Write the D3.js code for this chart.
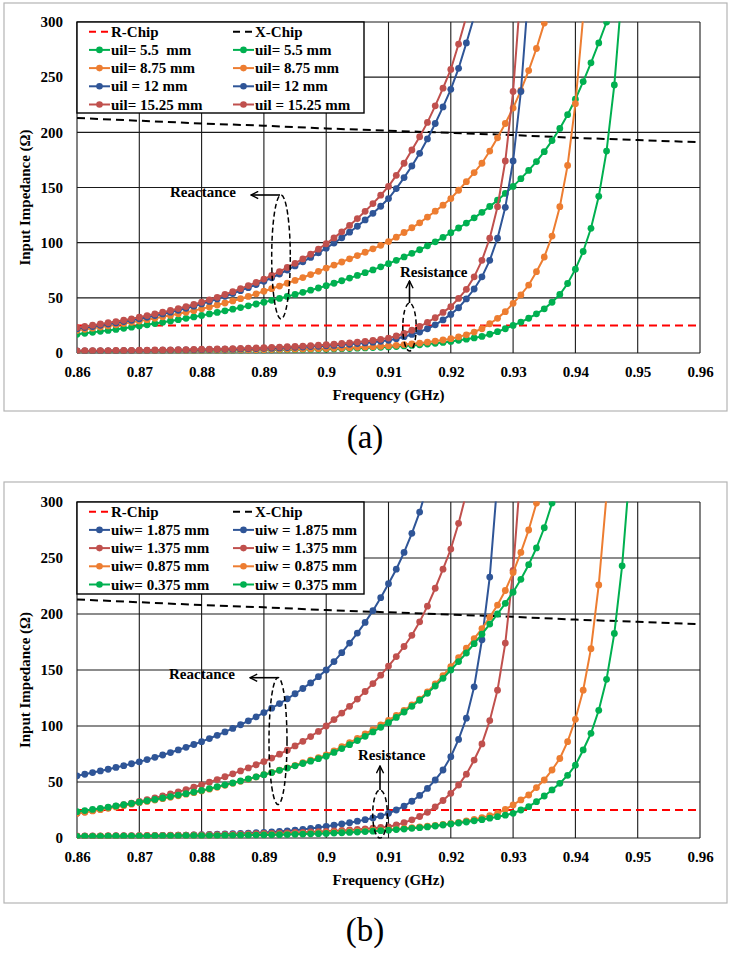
<!DOCTYPE html>
<html><head><meta charset="utf-8">
<script src="https://cdn.jsdelivr.net/npm/d3@7"></script>
<style>body{margin:0;background:#fff}svg{display:block}</style>
</head><body>
<script>
// ---------- DATA ----------
const fStart = 0.86, fStep = 0.00125;           // sweep grid of the simulated curves
const xTicks = [0.86,0.87,0.88,0.89,0.90,0.91,0.92,0.93,0.94,0.95,0.96];
const xTickLabels = ["0.86","0.87","0.88","0.89","0.9","0.91","0.92","0.93","0.94","0.95","0.96"];
const yTicks = [0,50,100,150,200,250,300];
const chipFreq = [0.86,0.87,0.88,0.89,0.90,0.91,0.92,0.93,0.94,0.95,0.96];
const rChip = [25,25,25,25,25,25,25,25,25,25,25];
const xChip = [213,210.5,208,206,203.5,201.5,199.5,197.5,195,193,191];

// panel (a) : uil
const xA55 = [17.0,17.8,18.7,19.6,20.5,21.4,22.4,23.4,24.5,25.6,26.7,27.8,29.0,30.2,31.4,32.7,34.0,35.4,36.8,38.2,39.7,41.2,42.8,44.4,46.0,47.7,49.5,51.3,53.1,55.0,56.9,58.9,61.0,63.2,65.5,67.9,70.3,72.8,75.3,78.1,81.0,84.0,87.1,90.3,93.6,97.1,100.8,104.8,109.0,113.3,117.8,122.5,127.5,132.8,138.5,144.6,151.0,158,165.5,173.5,182.5,192.5,203.5,216,230,246,263,281,300,325];
const xA875 = [20.5,21.5,22.5,23.5,24.5,25.6,26.7,27.8,29.0,30.2,31.5,32.8,34.1,35.5,36.9,38.4,40.0,41.7,43.5,45.3,47.2,49.2,51.3,53.6,56.0,58.3,60.7,63.2,65.8,68.4,71.1,74.0,77.0,79.7,82.5,85.4,88.3,91.3,94.4,97.6,101.0,105.0,109.2,113.5,118.0,123.2,128.5,134.0,140.0,147.5,155.3,163.5,172.0,183,195,208,222,238,256,276,299,325];
const xA12 = [22.0,23.0,24.0,25.1,26.2,27.3,28.5,29.7,31.0,32.4,33.9,35.4,37.0,38.7,40.5,42.4,44.5,46.7,49.0,51.4,53.9,56.5,59.2,62.0,65.0,68.2,71.6,75.2,78.9,82.7,86.6,90.7,95.0,99.6,104.4,109.5,114.9,120.6,126.6,133.0,140.0,149,159,169.5,181,194,208,223,239,258,281,305];
const xA1525 = [23.0,24.1,25.2,26.3,27.4,28.5,29.7,31.0,32.5,33.9,35.4,37.0,38.6,40.3,42.1,44.0,46.0,48.2,50.5,53.0,55.6,58.3,61.1,64.0,67.0,70.3,73.8,77.5,81.3,85.3,89.5,94.1,99.0,104.3,109.8,115.6,121.8,128.4,135.4,143.0,151.0,161,172,184,196,209,224,240,257,280,305];
const rA55 = [1.5,1.5,1.5,1.6,1.6,1.6,1.6,1.7,1.7,1.7,1.8,1.8,1.8,1.9,1.9,2.0,2.0,2.1,2.1,2.2,2.3,2.3,2.4,2.5,2.6,2.7,2.8,2.9,3.0,3.1,3.2,3.4,3.5,3.7,3.9,4.1,4.4,4.6,4.9,5.2,5.5,5.9,6.4,6.9,7.5,8.1,8.8,9.6,10.5,11.5,12.5,13.7,15.0,17.0,19.3,22.0,25.0,28,31.5,35.5,40,46,53,63,76,92,113,142,183,243,330];
const rA875 = [1.6,1.6,1.7,1.7,1.7,1.8,1.8,1.9,1.9,2.0,2.0,2.1,2.1,2.2,2.2,2.3,2.3,2.4,2.5,2.6,2.7,2.8,2.8,2.9,3.0,3.1,3.2,3.3,3.5,3.6,3.7,3.9,4.0,4.2,4.5,4.8,5.1,5.4,5.7,6.1,6.5,7.0,7.6,8.3,9.0,9.8,10.8,11.8,13.0,14.6,16.5,19.0,22.0,26.5,31.4,37.5,45,52.6,61.6,73.7,87,106,132.6,170,226,305];
const rA12 = [1.8,1.8,1.9,1.9,2.0,2.0,2.1,2.1,2.2,2.3,2.4,2.5,2.6,2.7,2.8,2.9,3.0,3.1,3.3,3.4,3.5,3.7,3.8,4.0,4.2,4.4,4.6,4.9,5.1,5.4,5.8,6.1,6.5,6.9,7.4,7.9,8.5,9.1,9.8,10.6,11.5,13.0,14.8,16.8,19.0,22.0,25.5,30.0,35.0,41,49,58,69,84,104,132,174,237,330];
const rA1525 = [2.0,2.1,2.1,2.2,2.2,2.3,2.3,2.4,2.5,2.6,2.7,2.8,2.9,3.0,3.1,3.3,3.4,3.5,3.7,3.8,4.0,4.2,4.4,4.6,4.8,5.1,5.4,5.7,6.0,6.3,6.7,7.1,7.5,8.0,8.6,9.2,9.9,10.6,11.4,12.4,13.5,15.4,17.7,20.6,24.0,27.8,32.0,36.8,42.0,49.5,57.7,69,84,104,132.6,174,237,330];

// panel (b) : uiw
const xB1875 = [55.5,56.9,58.4,59.9,61.4,63.0,64.6,66.3,68.0,70.0,72.0,74.1,76.3,78.6,81.0,83.5,86.0,88.8,91.7,94.7,97.8,101.1,104.6,108.2,112.0,115.9,120.0,124.3,128.8,133.5,138.5,144.0,150.0,157.5,165.5,174,183,192.5,203,214.6,227,240,255,272,291,315];
const xB1375 = [22.0,23.2,24.4,25.7,27.0,28.4,29.8,31.2,32.6,34.2,35.8,37.5,39.3,41.2,43.2,45.3,47.5,49.8,52.2,54.7,57.3,59.9,62.6,65.4,68.2,71.4,74.8,78.4,82.2,86.3,90.6,95.2,100.0,105.7,111.5,117.6,124.0,130.8,137.9,145.4,153.5,162,171,181,193,207,223,240,258,281,308];
const xB0875 = [22.0,23.1,24.2,25.3,26.5,27.7,28.9,30.2,31.5,32.7,33.9,35.1,36.4,37.7,39.1,40.5,42.0,43.6,45.3,47.0,48.8,50.6,52.5,54.5,56.5,58.5,60.6,62.7,64.9,67.2,69.5,71.8,74.2,77.8,81.5,85.2,89.0,92.9,96.8,100.9,105.0,109.5,114.0,118.9,124.0,130.5,137.5,145.0,153.0,161,169.5,178,187,197,208,221,237,255,275,299,325];
const xB0375 = [23.5,24.5,25.5,26.5,27.5,28.6,29.7,30.8,32.0,33.2,34.4,35.7,37.0,38.3,39.6,41.0,42.5,44.1,45.8,47.5,49.2,51.0,52.8,54.6,56.5,58.4,60.4,62.4,64.4,66.5,68.6,70.8,73.0,76.4,79.8,83.3,87.0,90.8,94.7,98.8,103.0,107.7,112.5,117.6,123.0,129.2,135.7,142.6,150.0,157.5,165.2,173.5,182.0,191,200,209.5,219.5,231,244,259,277,299,325];
const rB1875 = [1.5,1.6,1.6,1.7,1.7,1.8,1.8,1.9,2.0,2.1,2.2,2.3,2.4,2.5,2.6,2.8,3.0,3.2,3.4,3.6,3.8,4.1,4.4,4.7,5.0,5.4,5.9,6.4,7.0,7.7,8.5,9.4,10.4,11.4,12.5,13.7,15.0,16.4,17.9,19.7,22.0,25.0,28.5,32.8,38.0,44.3,51.8,60.7,72.6,88,107,135,177,233,320];
const rB1375 = [1.8,1.8,1.9,1.9,2.0,2.0,2.1,2.1,2.2,2.3,2.3,2.4,2.5,2.5,2.6,2.7,2.8,2.9,3.0,3.2,3.3,3.5,3.6,3.8,4.0,4.2,4.4,4.6,4.9,5.1,5.4,5.7,6.0,6.4,6.8,7.2,7.7,8.2,8.8,9.4,10.0,11.6,13.7,16.2,19.2,23.0,27.8,33.5,39.9,47.3,57,69.6,84,104.8,132,174,239,330];
const rB0875 = [1.5,1.5,1.5,1.6,1.6,1.6,1.7,1.7,1.8,1.8,1.8,1.9,1.9,2.0,2.0,2.1,2.2,2.2,2.3,2.4,2.5,2.6,2.7,2.8,2.9,3.1,3.3,3.5,3.7,3.9,4.2,4.5,4.8,5.1,5.4,5.7,6.0,6.4,6.7,7.1,7.5,8.0,8.6,9.2,9.8,10.5,11.2,12.1,13.0,14.0,15.2,16.6,18.2,20.0,22,25.6,29.5,34,38.4,45,51.8,60.7,71,86,106,132,169,226,306];
const rB0375 = [1.5,1.5,1.5,1.5,1.6,1.6,1.6,1.7,1.7,1.7,1.8,1.8,1.9,1.9,2.0,2.0,2.1,2.2,2.2,2.3,2.4,2.5,2.5,2.6,2.7,2.8,3.0,3.1,3.3,3.5,3.7,3.9,4.1,4.4,4.7,5.0,5.3,5.7,6.1,6.5,7.0,7.5,8.0,8.6,9.2,9.9,10.7,11.6,12.5,13.4,14.3,15.3,16.4,17.7,19.0,20.4,22,25,28,32.4,37.5,42.9,48.8,56,65,78.6,93.5,114,141.7,182.7,243,330];

const legendA = [["R-Chip","X-Chip"],["uil= 5.5  mm","uil= 5.5 mm"],["uil= 8.75 mm","uil= 8.75 mm"],["uil = 12 mm","uil= 12 mm"],["uil= 15.25 mm","uil = 15.25 mm"]];
const legendB = [["R-Chip","X-Chip"],["uiw= 1.875 mm","uiw = 1.875 mm"],["uiw= 1.375 mm","uiw = 1.375 mm"],["uiw= 0.875 mm","uiw = 0.875 mm"],["uiw= 0.375 mm","uiw = 0.375 mm"]];

// ---------- STYLE ----------
const GREEN="#00B050", ORANGE="#ED7D31", BLUE="#2F5597", RED="#C0504D";
const FONT="'Liberation Serif','Times New Roman',serif";

const panels = [
  {box:[4,3,727,411], left:77,right:700,top:22,bottom:353, label:"(a)", labelY:448,
   series:[[rA55,GREEN],[xA55,GREEN],[rA875,ORANGE],[xA875,ORANGE],[rA12,BLUE],[xA12,BLUE],[rA1525,RED],[xA1525,RED]],
   legend:legendA, legendColors:[GREEN,ORANGE,BLUE,RED], legendH:91,
   reac:{tx:170,ty:197,ax1:280,ax2:251,ay:195,cx:281,cy:257,rx:9.3,ry:62},
   res:{tx:400,ty:277,ax:409.5,ay1:303,ay2:281,cx:409.5,cy:327,rx:6.7,ry:24}},
  {box:[4,482,727,903], left:77,right:700,top:502,bottom:838, label:"(b)", labelY:941,
   series:[[rB1875,BLUE],[xB1875,BLUE],[rB1375,RED],[xB1375,RED],[rB0875,ORANGE],[xB0875,ORANGE],[rB0375,GREEN],[xB0375,GREEN]],
   legend:legendB, legendColors:[BLUE,RED,ORANGE,GREEN], legendH:92,
   reac:{tx:169,ty:679,ax1:278,ax2:250,ay:677.7,cx:278,cy:741,rx:9,ry:63.5},
   res:{tx:358,ty:760,ax:380,ay1:790,ay2:766,cx:380,cy:814,rx:7.3,ry:24}}
];

const freq = i => fStart + i*fStep;
const svg = d3.select("body").append("svg").attr("width",731).attr("height",959);
svg.append("defs").append("marker").attr("id","arr").attr("viewBox","0 0 10 10").attr("refX",9).attr("refY",5)
  .attr("markerWidth",9).attr("markerHeight",9).attr("markerUnits","userSpaceOnUse").attr("orient","auto")
  .append("path").attr("d","M1,1 L9,5 L1,9").attr("fill","none").attr("stroke","#000").attr("stroke-width",1.6);

panels.forEach((P,pi)=>{
  const g = svg.append("g");
  g.append("rect").attr("x",P.box[0]).attr("y",P.box[1]).attr("width",P.box[2]-P.box[0]).attr("height",P.box[3]-P.box[1])
    .attr("fill","#fff").attr("stroke","#b4b4b4").attr("stroke-width",1.2);
  const x = d3.scaleLinear().domain([0.86,0.96]).range([P.left,P.right]);
  const y = d3.scaleLinear().domain([0,300]).range([P.bottom,P.top]);

  g.append("g").selectAll("line").data(xTicks).join("line")
    .attr("x1",d=>x(d)).attr("x2",d=>x(d)).attr("y1",P.top).attr("y2",P.bottom).attr("stroke","#1a1a1a").attr("stroke-width",1.1);
  g.append("g").selectAll("line").data(yTicks).join("line")
    .attr("y1",d=>y(d)).attr("y2",d=>y(d)).attr("x1",P.left).attr("x2",P.right).attr("stroke","#1a1a1a").attr("stroke-width",1.1);

  const xa = g.append("g").attr("transform",`translate(0,${P.bottom})`)
    .call(d3.axisBottom(x).tickValues(xTicks).tickFormat((d,i)=>xTickLabels[i]).tickSize(0).tickPadding(13));
  const ya = g.append("g").attr("transform",`translate(${P.left},0)`)
    .call(d3.axisLeft(y).tickValues(yTicks).tickSize(0).tickPadding(14));
  [xa,ya].forEach(a=>{a.select(".domain").remove();
    a.selectAll("text").attr("font-family",FONT).attr("font-weight","bold").attr("font-size",15).attr("fill","#000");});

  g.append("text").attr("x",(P.left+P.right)/2).attr("y",P.bottom+47).attr("text-anchor","middle")
    .attr("font-family",FONT).attr("font-weight","bold").attr("font-size",15).text("Frequency (GHz)");
  g.append("text").attr("transform",`translate(30,${(P.top+P.bottom)/2+10}) rotate(-90)`).attr("text-anchor","middle")
    .attr("font-family",FONT).attr("font-weight","bold").attr("font-size",15).text("Input Impedance (Ω)");

  const clipId = "clip"+pi;
  g.append("clipPath").attr("id",clipId).append("rect").attr("x",P.left).attr("y",P.top-0.5)
    .attr("width",P.right-P.left).attr("height",P.bottom-P.top+1);
  const plot = g.append("g").attr("clip-path",`url(#${clipId})`);

  const chipLine = d3.line().x((d,i)=>x(chipFreq[i])).y(d=>y(d));
  plot.append("path").attr("d",chipLine(rChip)).attr("fill","none").attr("stroke","#FF0000").attr("stroke-width",2).attr("stroke-dasharray","8,5");
  plot.append("path").attr("d",chipLine(xChip)).attr("fill","none").attr("stroke","#000").attr("stroke-width",2).attr("stroke-dasharray","8,5");

  const line = d3.line().x((d,i)=>x(freq(i))).y(d=>y(d));
  P.series.forEach(([vals,col])=>{
    const s = plot.append("g");
    s.append("path").attr("d",line(vals)).attr("fill","none").attr("stroke",col).attr("stroke-width",2);
    s.selectAll("circle").data(vals).join("circle").attr("cx",(d,i)=>x(freq(i))).attr("cy",d=>y(d)).attr("r",3.4).attr("fill",col);
  });

  // legend
  const L = g.append("g");
  L.append("rect").attr("x",P.left).attr("y",P.top).attr("width",287).attr("height",P.legendH)
    .attr("fill","#fff").attr("stroke","#000").attr("stroke-width",1.4);
  P.legend.forEach((row,r)=>{
    const cy = P.top + 9.7 + r*18.2;
    row.forEach((txt,c)=>{
      const x0 = P.left + 12 + c*144;
      if(r===0){
        L.append("line").attr("x1",x0).attr("x2",x0+21).attr("y1",cy).attr("y2",cy)
          .attr("stroke",c===0?"#FF0000":"#000").attr("stroke-width",2).attr("stroke-dasharray","7,5");
      } else {
        const col = P.legendColors[r-1];
        L.append("line").attr("x1",x0).attr("x2",x0+21).attr("y1",cy).attr("y2",cy).attr("stroke",col).attr("stroke-width",2);
        L.append("circle").attr("cx",x0+10.5).attr("cy",cy).attr("r",3.3).attr("fill",col);
      }
      L.append("text").attr("x",x0+22).attr("y",cy+5).attr("font-family",FONT).attr("font-weight","bold")
        .attr("font-size",15).style("white-space","pre").text(txt);
    });
  });

  // annotations
  const A = g.append("g").attr("font-family",FONT).attr("font-weight","bold").attr("font-size",15);
  A.append("text").attr("x",P.reac.tx).attr("y",P.reac.ty).text("Reactance");
  A.append("line").attr("x1",P.reac.ax1).attr("x2",P.reac.ax2).attr("y1",P.reac.ay).attr("y2",P.reac.ay)
    .attr("stroke","#000").attr("stroke-width",1.6).attr("marker-end","url(#arr)");
  A.append("ellipse").attr("cx",P.reac.cx).attr("cy",P.reac.cy).attr("rx",P.reac.rx).attr("ry",P.reac.ry)
    .attr("fill","none").attr("stroke","#000").attr("stroke-width",1.5).attr("stroke-dasharray","5,3");
  A.append("text").attr("x",P.res.tx).attr("y",P.res.ty).text("Resistance");
  A.append("line").attr("x1",P.res.ax).attr("x2",P.res.ax).attr("y1",P.res.ay1).attr("y2",P.res.ay2)
    .attr("stroke","#000").attr("stroke-width",1.6).attr("marker-end","url(#arr)");
  A.append("ellipse").attr("cx",P.res.cx).attr("cy",P.res.cy).attr("rx",P.res.rx).attr("ry",P.res.ry)
    .attr("fill","none").attr("stroke","#000").attr("stroke-width",1.5).attr("stroke-dasharray","5,3");

  svg.append("text").attr("x",365).attr("y",P.labelY).attr("text-anchor","middle")
    .attr("font-family",FONT).attr("font-size",33).text(P.label);
});
</script>
</body></html>
